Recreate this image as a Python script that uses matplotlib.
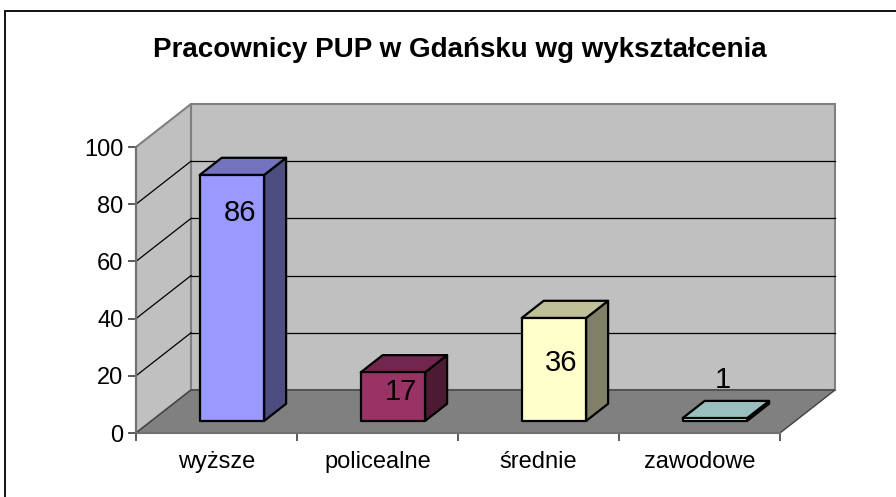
import matplotlib
matplotlib.use("Agg")
import matplotlib.pyplot as plt
from matplotlib.patches import Polygon, Rectangle
from matplotlib.colors import to_rgb

plt.rcParams["font.family"] = ["Liberation Sans", "DejaVu Sans"]

# --- data ---
TITLE = "Pracownicy PUP w Gdańsku wg wykształcenia"
categories = ["wyższe", "policealne", "średnie", "zawodowe"]
values = [86, 17, 36, 1]
bar_colors = ["#9999FF", "#993366", "#FFFFCC", "#CCFFFF"]
yticks = [0, 20, 40, 60, 80, 100]

# --- 3d-ish layout (data units) ---
DEPTH_X = 55 / 161      # full depth shift along x, in category units
DEPTH_Y = 43 / 2.86     # full depth shift along y, in value units
BAR_W = 0.40
F0, F1 = 0.28, 0.68     # bar depth range (0 = front, 1 = back wall)
label_at = [77, 14.3, 24.5, 18.5]   # label height on the front plane


def proj(x, v, f):
    return (x + f * DEPTH_X, v + f * DEPTH_Y)


def shade(c, k):
    r, g, b = to_rgb(c)
    return (r * k, g * k, b * k)


fig = plt.figure(figsize=(8.96, 4.97), dpi=100)
ax = fig.add_axes([136 / 896, 1 - 433 / 497, 644 / 896, 286 / 497])
ax.set_xlim(0, len(categories))
ax.set_ylim(0, 100)
ax.patch.set_visible(False)

n = len(categories)
wall = "#C0C0C0"
edge = "#808080"

# back wall
ax.add_patch(Polygon([proj(0, 0, 1), proj(n, 0, 1), proj(n, 100, 1), proj(0, 100, 1)],
                     closed=True, fc=wall, ec=edge, lw=1.5, clip_on=False, zorder=0))
# left wall
ax.add_patch(Polygon([proj(0, 0, 0), proj(0, 0, 1), proj(0, 100, 1), proj(0, 100, 0)],
                     closed=True, fc=wall, ec=edge, lw=1.5, clip_on=False, zorder=0))
# floor
ax.add_patch(Polygon([proj(0, 0, 0), proj(n, 0, 0), proj(n, 0, 1), proj(0, 0, 1)],
                     closed=True, fc="#808080", ec="#404040", lw=1, clip_on=False, zorder=0.5))

# gridlines
for v in yticks[1:-1]:
    xs, ys = zip(proj(0, v, 1), proj(n, v, 1))
    ax.plot(xs, ys, color="black", lw=0.9, clip_on=False, zorder=1)
    xs, ys = zip(proj(0, v, 0), proj(0, v, 1))
    ax.plot(xs, ys, color="black", lw=0.9, clip_on=False, zorder=1)

# bars
for i, (val, col) in enumerate(zip(values, bar_colors)):
    x0 = i + 0.5 - BAR_W / 2
    x1 = i + 0.5 + BAR_W / 2
    kw = dict(closed=True, ec="black", lw=1.6, clip_on=False, zorder=3, joinstyle="round")
    side = [proj(x1, 0, F0), proj(x1, val, F0), proj(x1, val, F1), proj(x1, 0, F1)]
    top = [proj(x0, val, F0), proj(x1, val, F0), proj(x1, val, F1), proj(x0, val, F1)]
    front = [proj(x0, 0, F0), proj(x1, 0, F0), proj(x1, val, F0), proj(x0, val, F0)]
    ax.add_patch(Polygon(side, fc=shade(col, 0.5), **kw))
    ax.add_patch(Polygon(top, fc=shade(col, 0.75), **kw))
    ax.add_patch(Polygon(front, fc=col, **kw))
    lx, _ = proj(i + 0.5, 0, 0.42)
    ax.text(lx, label_at[i], str(val), ha="center", va="center",
            fontsize=21, zorder=4, clip_on=False)

# axes
for s in ["top", "right"]:
    ax.spines[s].set_visible(False)
for s in ["left", "bottom"]:
    ax.spines[s].set_color("#707070")
    ax.spines[s].set_linewidth(1.5)
    ax.spines[s].set_zorder(2)
ax.set_yticks(yticks)
ax.set_yticklabels([str(t) for t in yticks], fontsize=17)
ax.set_xticks(range(n + 1))
ax.set_xticklabels([])
ax.set_xticks([i + 0.5 for i in range(n)], minor=True)
ax.set_xticklabels(categories, minor=True, fontsize=17)
ax.tick_params(axis="both", which="major", direction="out", length=6,
               width=1.2, color="#404040", pad=3)
ax.tick_params(axis="x", which="minor", length=0, pad=13)

fig.text(0.513, 0.9, TITLE, ha="center", va="center", fontsize=20, fontweight="bold")

# chart border
fig.patches.append(Rectangle((5 / 896, -0.1), 2, 1 - 11 / 497 + 0.1, transform=fig.transFigure,
                             fill=False, ec="black", lw=1.3))

fig.savefig("out.png", dpi=100)
